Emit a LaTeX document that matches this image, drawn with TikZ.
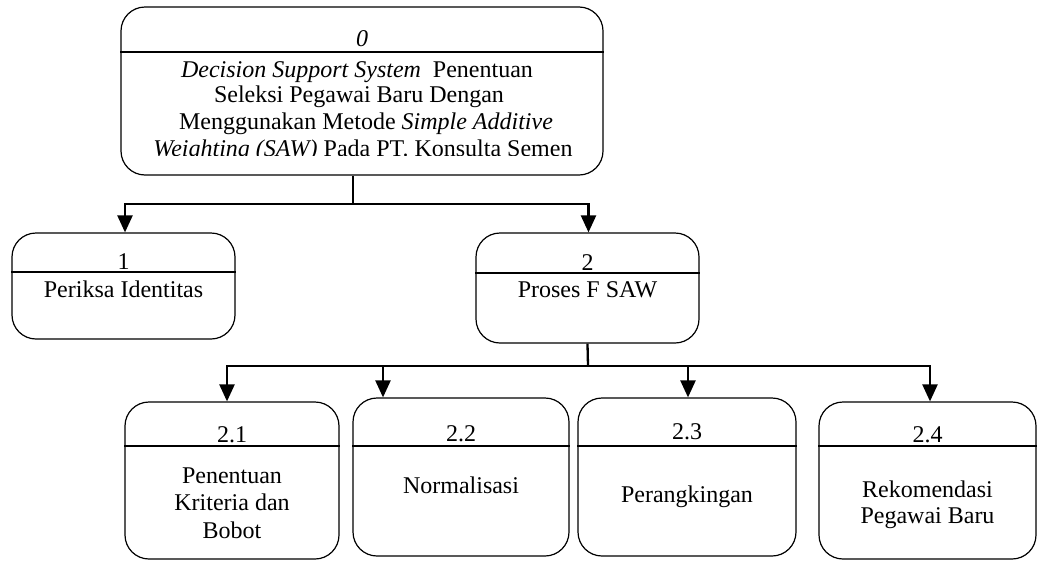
\documentclass[tikz,border=0pt]{standalone}
\usepackage{fontspec}
\setmainfont{Liberation Serif}
\usetikzlibrary{arrows.meta,calc}
\begin{document}
\begin{tikzpicture}[x=1pt,y=-1pt,
  proc/.style={draw, line width=1.2pt, rounded corners=24pt, inner sep=0pt},
  sepline/.style={line width=2pt},
  conn/.style={line width=2.3pt},
  flow/.style={conn, -{Triangle[width=15pt,length=17pt]}},
  lbl/.style={anchor=base, inner sep=0pt, font=\fontsize{24}{26}\selectfont},
]
\useasboundingbox (0,0) rectangle (1039,560);

% process boxes
\node[proc, minimum width=482pt, minimum height=168pt] (b0) at (362,91) {};
\node[proc, minimum width=223pt, minimum height=106pt] (b1) at (123.5,286) {};
\node[proc, minimum width=223pt, minimum height=110pt] (b2) at (587.5,288) {};
\node[proc, minimum width=214pt, minimum height=157pt] (b21) at (232,480.5) {};
\node[proc, minimum width=216pt, minimum height=158pt] (b22) at (461,477) {};
\node[proc, minimum width=218pt, minimum height=158pt] (b23) at (687,477) {};
\node[proc, minimum width=217pt, minimum height=157pt] (b24) at (927.5,480.5) {};

% header separators
\coordinate (s0) at (0,52);
\coordinate (s1) at (0,272);
\coordinate (s2) at (0,273);
\coordinate (s3) at (0,446);
\draw[sepline] (b0.west |- s0) -- (b0.east |- s0);
\draw[sepline] (b1.west |- s1) -- (b1.east |- s1);
\draw[sepline] (b2.west |- s2) -- (b2.east |- s2);
\foreach \b in {b21,b22,b23,b24}
  \draw[sepline] (\b.west |- s3) -- (\b.east |- s3);

% labels of the top process
\node[lbl] (n0) at (362,46) {\textit{0}};
\node[lbl] (t0a) at (357,77) {\textit{Decision Support System}\ \ Penentuan};
\node[lbl] (t0b) at (359,102) {Seleksi Pegawai Baru Dengan};
\node[lbl] (t0c) at (366,129) {Menggunakan Metode \textit{Simple Additive}};
\begin{scope}
  \clip (121,130) rectangle (603,155.5);
  \node[lbl] (t0d) at (363,156.5) {\textit{Weighting (SAW)} Pada PT. Konsulta Semen};
\end{scope}

% labels of processes 1 and 2
\node[lbl] (n1) at (123.5,269) {1};
\node[lbl] (t1) at (123.5,297) {Periksa Identitas};
\node[lbl] (n2) at (587.5,270) {2};
\node[lbl] (t2) at (587.5,297) {Proses F SAW};

% labels of the sub-processes
\node[lbl] (n21) at (232,442) {2.1};
\node[lbl] (t21a) at (232,483) {Penentuan};
\node[lbl] (t21b) at (232,510) {Kriteria dan};
\node[lbl] (t21c) at (232,538) {Bobot};
\node[lbl] (n22) at (461,441) {2.2};
\node[lbl] (t22) at (461,493) {Normalisasi};
\node[lbl] (n23) at (687,439) {2.3};
\node[lbl] (t23) at (687,502) {Perangkingan};
\node[lbl] (n24) at (927.5,442) {2.4};
\node[lbl] (t24a) at (927.5,497) {Rekomendasi};
\node[lbl] (t24b) at (927.5,523) {Pegawai Baru};

% decomposition connectors
\coordinate (j0) at (353,204);
\draw[conn] (j0 |- b0.south) -- (j0);
\draw[flow] (j0) -| ([xshift=1.5pt]b1.north);
\draw[flow] (j0) -| ([xshift=1pt]b2.north);

\coordinate (j2) at (588,366);
\draw[conn] (b2.south) -- (j2);
\draw[flow] (j2) -| ([xshift=-5pt]b21.north);
\draw[flow] (j2) -| ([xshift=-78pt]b22.north);
\draw[flow] (j2) -| ([xshift=1pt]b23.north);
\draw[flow] (j2) -| ([xshift=2.5pt]b24.north);
\end{tikzpicture}
\end{document}
